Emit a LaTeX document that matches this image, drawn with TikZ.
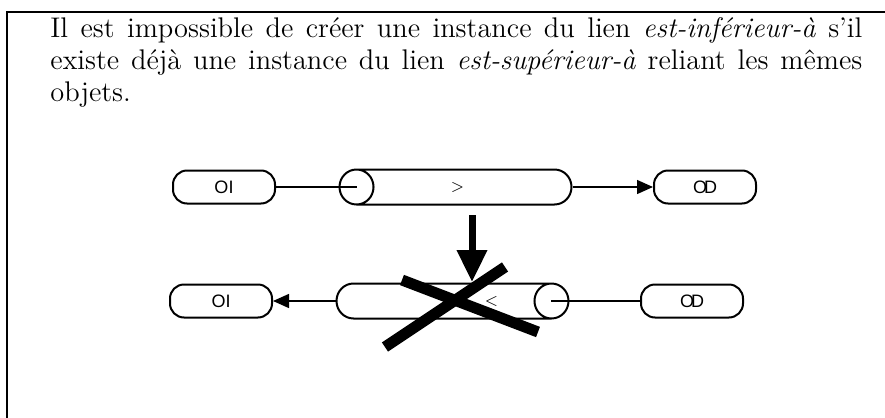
\documentclass[tikz,border=0pt]{standalone}
\usepackage{fontspec}
\newfontfamily\diafont{Liberation Sans}
\usetikzlibrary{calc}
\usetikzlibrary{arrows.meta}
\usetikzlibrary{shapes.geometric}
\tikzset{objet/.style = {draw, line width=1pt, rounded corners=7pt, minimum width=51pt, minimum height=16.5pt, inner sep=0, font=\diafont\fontsize{9}{9}\selectfont}}
\tikzset{lien/.style = {draw, line width=1pt, cylinder, shape aspect=1, anchor=shape center, minimum width=17.5pt, minimum height=116pt, inner xsep=0, inner ysep=6pt, font=\diafont\fontsize{8}{8}\selectfont}}
\tikzset{trait/.style = {line width=.7pt}}
\tikzset{fleche/.style = {line width=.7pt, -{Triangle[length=8pt, width=7pt]}}}
\tikzset{grosse/.style = {line width=3.5pt, -{Triangle[length=16pt, width=14.5pt]}}}
\tikzset{croix/.style = {line width=5.5pt}}

\begin{document}
\begin{tikzpicture} [x=.5pt, y=-.5pt]
    \useasboundingbox (0,0) rectangle (885,418);
    \draw[line width=.8pt] (7,418) -- (7,12) -- (885,12);
    \node[anchor=base west, inner sep=0, text width=406pt, align=justify,
          font=\fontsize{14.2}{16}\selectfont] (enonce) at (50,37)
      {\hyphenpenalty=10000 Il est impossible de créer une instance du lien \textit{est-inférieur-à} s'il
       existe déjà une instance du lien \textit{est-supérieur-à} reliant les mêmes objets.};
    % ligne du haut
    \node[objet] (oiA) at (224,187) {OI};
    \node[lien, shape border rotate=180] (lienA) at (455.5,187) {$>$\hspace*{15pt}};
    \node[objet] (odA) at (705,187) {O\kern-1.5pt D};
    \draw[trait] (oiA.east) -- ($(lienA.before top)!.5!(lienA.after top)$);
    \draw[fleche] (lienA.bottom) -- (odA.west);
    % ligne du bas
    \node[objet] (oiB) at (221,301) {OI};
    \node[lien] (lienB) at (452.5,301) {\hspace*{56pt}$<$};
    \node[objet] (odB) at (692,301) {O\kern-1.5pt D};
    \draw[fleche] (lienB.bottom) -- (oiB.east);
    \draw[trait] (odB.west) -- ($(lienB.before top)!.5!(lienB.after top)$);
    % interdit
    \coordinate (haut) at (472,215);
    \coordinate (bas) at (472,282);
    \draw[grosse] (haut) -- (bas);
    \draw[croix] (385,347) -- (505,267);
    \draw[croix] (402,280) -- (538,332);
\end{tikzpicture}
\end{document}
